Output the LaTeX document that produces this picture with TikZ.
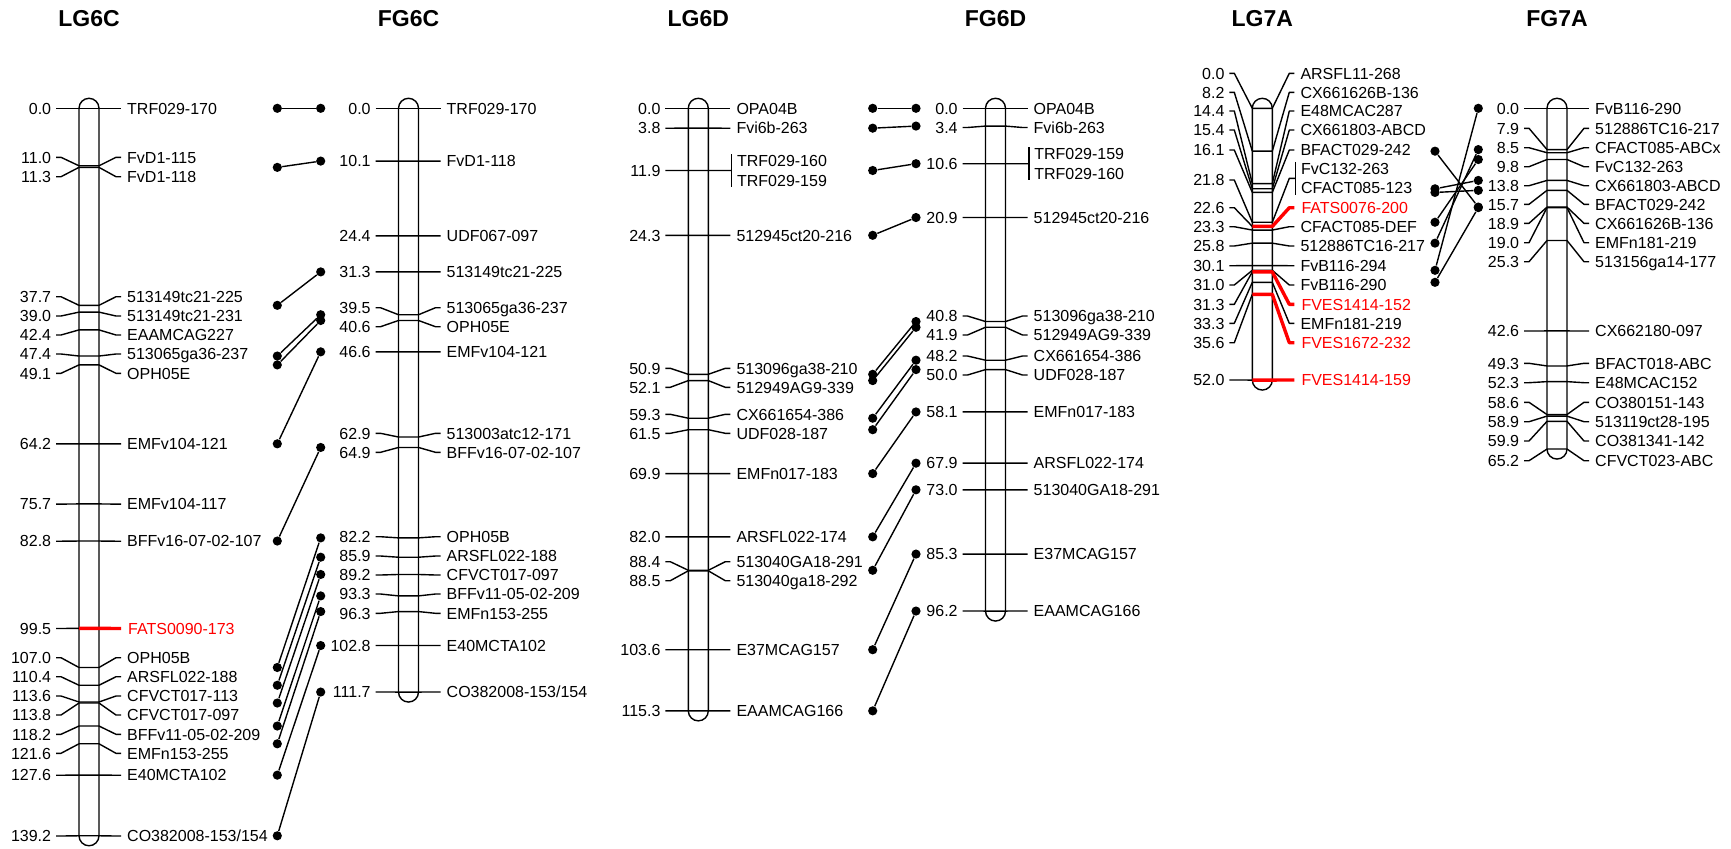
\documentclass[tikz,border=0pt]{standalone}
\usepackage{fontspec}
\setmainfont{Liberation Sans}

% one marker: [style]{id}{bar x}{cM}{label y}{name}
\newcommand{\mk}[6][mline]{%
  \pgfmathsetmacro{\my}{108.3+5.226*#4}
  \draw[mline] (#3-33,#5) -- (#3-28,#5) -- (#3-10,\my);
  \draw[#1] (#3-10,\my) -- (#3+10,\my) -- (#3+27,#5) -- (#3+32,#5);
  \node[num] (#2n) at (#3-37.5,#5) {#4};
  \node[mname,#1] (#2) at (#3+37.5,#5) {#6};}
% two markers at one place: {id}{bar x}{cM}{number y}{bracket y}{upper}{lower}
\newcommand{\mkbr}[7]{%
  \pgfmathsetmacro{\my}{108.3+5.226*#3}
  \draw[mline] (#2-33,#4) -- (#2-28,#4) -- (#2-10,\my) -- (#2+10,\my) -- (#2+27,#5) -- (#2+33.4,#5);
  \draw[mline] (#2+33.4,#5-16.5) -- (#2+33.4,#5+16.5);
  \node[num] (#1n) at (#2-37.5,#4) {#3};
  \node[mname] (#1a) at (#2+38.4,#5-9.8) {#6};
  \node[mname] (#1b) at (#2+38.4,#5+9.8) {#7};}
% bar with title: {name}{bar x}{length}
\newcommand{\chrom}[3]{%
  \draw[bar] (#2-10,98.3) rectangle (#2+10,{118.3+5.226*#3});
  \node[title] (#1) at (#2,19) {#1};}

\begin{document}
\begin{tikzpicture}[x=0.5pt,y=-0.5pt,
    mline/.style={line width=0.7pt,line join=round},
    qtl/.style={red,line width=1.7pt,line join=round},
    num/.style={anchor=east,inner sep=0pt,text height=5.73pt,text depth=0pt,font=\fontsize{8}{9}\selectfont},
    mname/.style={anchor=west,inner sep=0pt,text height=5.73pt,text depth=0pt,font=\fontsize{8}{9}\selectfont},
    title/.style={font=\fontsize{11.5}{13}\selectfont\bfseries},
    dot/.style={circle,fill,inner sep=0pt,minimum size=4.6pt},
    bar/.style={line width=0.7pt,rounded corners=5pt}]
\useasboundingbox (0,0) rectangle (1731,848);

% LG6C
\chrom{LG6C}{89}{139.2}
\foreach \c/\y/\t [count=\i] in {0.0/108.3/TRF029-170, 11.0/157.3/FvD1-115, 11.3/176.7/FvD1-118,
    37.7/296.7/513149tc21-225, 39.0/316/513149tc21-231, 42.4/335/EAAMCAG227,
    47.4/354/513065ga36-237, 49.1/373.3/OPH05E, 64.2/443.9/EMFv104-121,
    75.7/504.1/EMFv104-117, 82.8/541.2/BFFv16-07-02-107, 107.0/657.7/OPH05B,
    110.4/676.7/ARSFL022-188, 113.6/696/CFVCT017-113, 113.8/715/CFVCT017-097,
    118.2/734.3/BFFv11-05-02-209, 121.6/753.3/EMFn153-255, 127.6/775.2/E40MCTA102,
    139.2/836/{CO382008-153/154}}
  {\mk{lgc\i}{89}{\c}{\y}{\t}}
\mk[qtl]{lgcq}{89}{99.5}{628.5}{FATS0090-173}

% FG6C
\chrom{FG6C}{408.5}{111.7}
\foreach \c/\y/\t [count=\i] in {0.0/108.3/TRF029-170, 10.1/161.1/FvD1-118, 24.4/235.8/UDF067-097,
    31.3/271.9/513149tc21-225, 39.5/307.7/513065ga36-237, 40.6/326.7/OPH05E,
    46.6/351.8/EMFv104-121, 62.9/433.3/513003atc12-171, 64.9/452.3/BFFv16-07-02-107,
    82.2/536.7/OPH05B, 85.9/556/ARSFL022-188, 89.2/575/CFVCT017-097,
    93.3/594/BFFv11-05-02-209, 96.3/613.3/EMFn153-255, 102.8/645.5/E40MCTA102,
    111.7/692/{CO382008-153/154}}
  {\mk{fgc\i}{408.5}{\c}{\y}{\t}}

% LG6D
\chrom{LG6D}{698.3}{115.3}
\foreach \c/\y/\t [count=\i] in {0.0/108.3/OPA04B, 3.8/128.2/Fvi6b-263, 24.3/235.3/512945ct20-216,
    50.9/368.3/513096ga38-210, 52.1/387.3/512949AG9-339, 59.3/414.3/CX661654-386,
    61.5/433.3/UDF028-187, 69.9/473.6/EMFn017-183, 82.0/536.8/ARSFL022-174,
    88.4/561.7/513040GA18-291, 88.5/580.7/513040ga18-292, 103.6/649.7/E37MCAG157,
    115.3/710.9/EAAMCAG166}
  {\mk{lgd\i}{698.3}{\c}{\y}{\t}}
\mkbr{lgdt}{698.3}{11.9}{170.5}{170.5}{TRF029-160}{TRF029-159}

% FG6D
\chrom{FG6D}{995.5}{96.2}
\foreach \c/\y/\t [count=\i] in {0.0/108.3/OPA04B, 3.4/127.5/Fvi6b-263, 20.9/217.5/512945ct20-216,
    40.8/316/513096ga38-210, 41.9/335/512949AG9-339, 48.2/356/CX661654-386,
    50.0/375/UDF028-187, 58.1/411.9/EMFn017-183, 67.9/463.1/ARSFL022-174,
    73.0/489.8/513040GA18-291, 85.3/554.1/E37MCAG157, 96.2/611/EAAMCAG166}
  {\mk{fgd\i}{995.5}{\c}{\y}{\t}}
\mkbr{fgdt}{995.5}{10.6}{163.7}{163.7}{TRF029-159}{TRF029-160}

% LG7A
\chrom{LG7A}{1262.3}{52.0}
\foreach \c/\y/\t [count=\i] in {0.0/73.3/ARSFL11-268, 8.2/92.3/CX661626B-136, 14.4/111/E48MCAC287,
    15.4/130/CX661803-ABCD, 16.1/150/BFACT029-242, 23.3/226.7/CFACT085-DEF,
    25.8/246/512886TC16-217, 30.1/265.7/FvB116-294, 31.0/285/FvB116-290,
    33.3/323.3/EMFn181-219}
  {\mk{lga\i}{1262.3}{\c}{\y}{\t}}
\mkbr{lgab}{1262.3}{21.8}{180}{178.3}{FvC132-263}{CFACT085-123}
\mk[qtl]{lgaq1}{1262.3}{22.6}{207.7}{FATS0076-200}
\mk[qtl]{lgaq2}{1262.3}{31.3}{304.3}{FVES1414-152}
\mk[qtl]{lgaq3}{1262.3}{35.6}{342.7}{FVES1672-232}
\mk[qtl]{lgaq4}{1262.3}{52.0}{380}{FVES1414-159}

% FG7A
\chrom{FG7A}{1557}{65.2}
\foreach \c/\y/\t [count=\i] in {0.0/108.3/FvB116-290, 7.9/128.3/512886TC16-217, 8.5/147.7/CFACT085-ABCx,
    9.8/166.7/FvC132-263, 13.8/185.7/CX661803-ABCD, 15.7/204.3/BFACT029-242,
    18.9/223.3/CX661626B-136, 19.0/242.7/EMFn181-219, 25.3/261.7/513156ga14-177,
    42.6/331/CX662180-097, 49.3/363.3/BFACT018-ABC, 52.3/382.7/E48MCAC152,
    58.6/402.3/CO380151-143, 58.9/421.7/513119ct28-195, 59.9/441/CO381341-142,
    65.2/460.7/CFVCT023-ABC}
  {\mk{fga\i}{1557}{\c}{\y}{\t}}

% shared markers
\foreach \a/\b [count=\i] in {0.0/0.0, 11.3/10.1, 37.7/31.3, 47.4/39.5, 49.1/40.6, 64.2/46.6,
    82.8/64.9, 107.0/82.2, 110.4/85.9, 113.8/89.2, 118.2/93.3, 121.6/96.3, 127.6/102.8, 139.2/111.7}
  {\node[dot] (sc\i) at (277.3,{108.3+5.226*\a}) {};
   \node[dot] (tc\i) at (320.7,{108.3+5.226*\b}) {};
   \draw[mline] (sc\i) -- (tc\i);}
\foreach \a/\b [count=\i] in {0.0/0.0, 3.8/3.4, 11.9/10.6, 24.3/20.9, 50.9/40.8, 52.1/41.9, 59.3/48.2,
    61.5/50.0, 69.9/58.1, 82.0/67.9, 88.4/73.0, 103.6/85.3, 115.3/96.2}
  {\node[dot] (sd\i) at (872.7,{108.3+5.226*\a}) {};
   \node[dot] (td\i) at (916,{108.3+5.226*\b}) {};
   \draw[mline] (sd\i) -- (td\i);}
\foreach \a/\b [count=\i] in {8.2/18.9, 15.4/13.8, 16.1/15.7, 21.8/9.8, 25.8/7.9, 31.0/0.0, 33.3/19.0}
  {\node[dot] (sa\i) at (1435,{108.3+5.226*\a}) {};
   \node[dot] (ta\i) at (1478.3,{108.3+5.226*\b}) {};
   \draw[mline] (sa\i) -- (ta\i);}
\end{tikzpicture}
\end{document}
